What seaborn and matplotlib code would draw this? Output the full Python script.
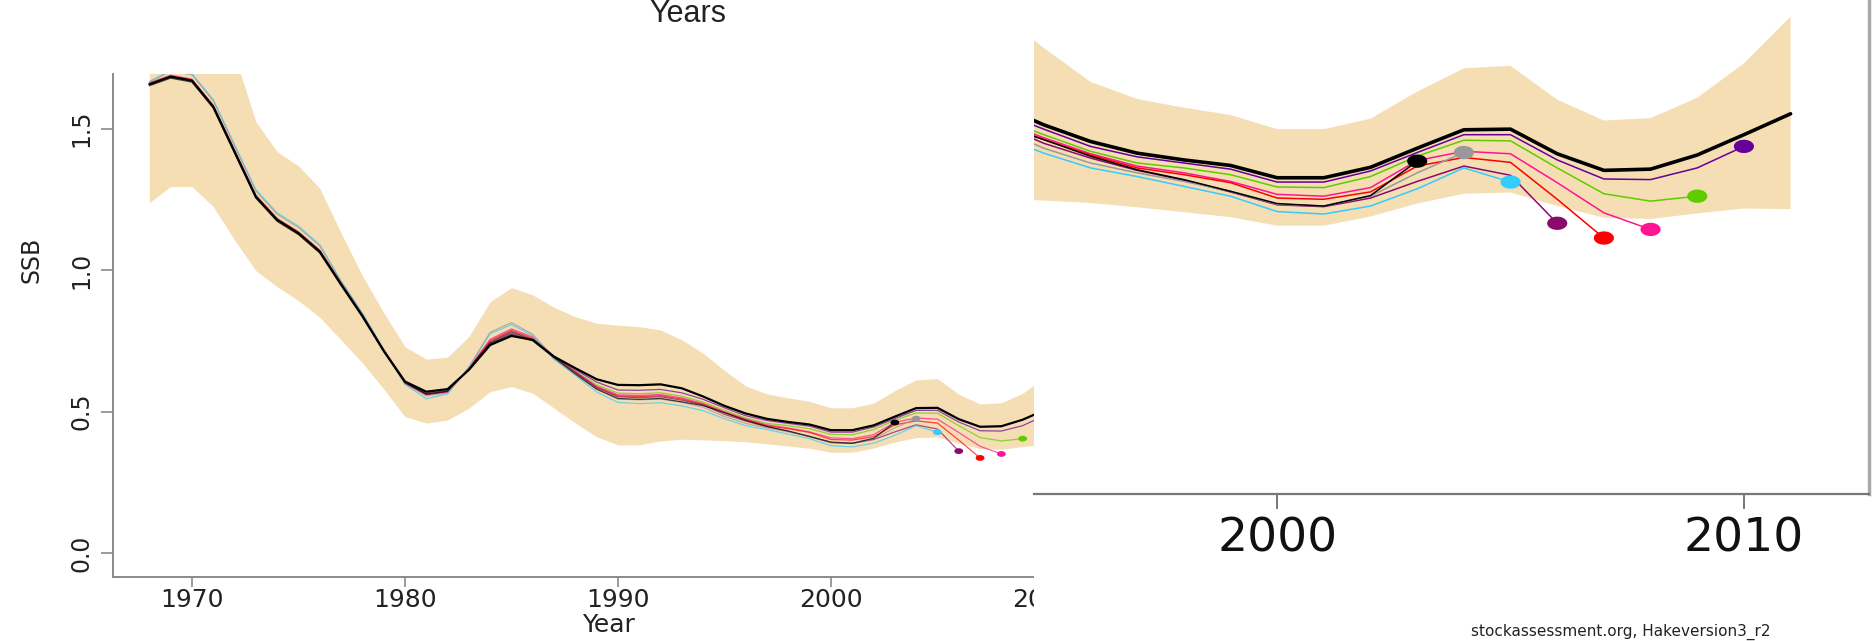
import numpy as np
import pandas as pd
import matplotlib
matplotlib.use("Agg")
import matplotlib.pyplot as plt
from matplotlib.path import Path
from matplotlib.patches import Rectangle
import seaborn as sns

# ---------------------------------------------------------------- data
years = list(range(1968, 2012))

# final assessment SSB and its confidence band
ssb_final = [1.656, 1.683, 1.669, 1.577, 1.418, 1.259, 1.177, 1.130, 1.065, 0.950,
             0.838, 0.715, 0.606, 0.570, 0.579, 0.647, 0.735, 0.767, 0.753, 0.694,
             0.653, 0.614, 0.594, 0.593, 0.596, 0.582, 0.553, 0.520, 0.493, 0.474,
             0.463, 0.454, 0.434, 0.434, 0.451, 0.482, 0.512, 0.513, 0.473, 0.446,
             0.448, 0.471, 0.504, 0.538]
ssb_upper = [2.05, 2.10, 2.10, 1.98, 1.76, 1.524, 1.418, 1.368, 1.289, 1.131,
             0.980, 0.850, 0.729, 0.685, 0.692, 0.765, 0.888, 0.938, 0.912, 0.868,
             0.835, 0.812, 0.805, 0.800, 0.788, 0.753, 0.706, 0.645, 0.590, 0.562,
             0.548, 0.536, 0.513, 0.513, 0.530, 0.574, 0.612, 0.616, 0.561, 0.527,
             0.531, 0.564, 0.620, 0.696]
ssb_lower = [1.238, 1.295, 1.295, 1.224, 1.106, 0.998, 0.941, 0.892, 0.833, 0.753,
             0.672, 0.580, 0.482, 0.459, 0.470, 0.512, 0.570, 0.588, 0.565, 0.512,
             0.459, 0.411, 0.382, 0.382, 0.396, 0.402, 0.400, 0.397, 0.393, 0.386,
             0.378, 0.370, 0.356, 0.356, 0.371, 0.392, 0.408, 0.410, 0.388, 0.369,
             0.367, 0.376, 0.384, 0.383]

# retrospective peels, each starting in 1968 and ending in its terminal year
peel_2010 = [1.659, 1.686, 1.672, 1.580, 1.421, 1.262, 1.180, 1.133, 1.068, 0.953,
             0.840, 0.717, 0.604, 0.565, 0.574, 0.650, 0.743, 0.777, 0.753, 0.693,
             0.648, 0.604, 0.576, 0.575, 0.578, 0.566, 0.543, 0.513, 0.485, 0.468,
             0.458, 0.448, 0.427, 0.427, 0.445, 0.475, 0.504, 0.504, 0.463, 0.432,
             0.431, 0.450, 0.485]
peel_2009 = [1.661, 1.688, 1.674, 1.582, 1.423, 1.264, 1.182, 1.135, 1.070, 0.955,
             0.842, 0.718, 0.603, 0.562, 0.571, 0.652, 0.745, 0.782, 0.755, 0.692,
             0.643, 0.594, 0.565, 0.563, 0.566, 0.554, 0.533, 0.504, 0.477, 0.458,
             0.450, 0.439, 0.419, 0.418, 0.436, 0.469, 0.495, 0.494, 0.450, 0.408,
             0.396, 0.404]
peel_2008 = [1.661, 1.688, 1.674, 1.582, 1.423, 1.264, 1.182, 1.135, 1.070, 0.955,
             0.842, 0.718, 0.602, 0.561, 0.570, 0.653, 0.755, 0.792, 0.763, 0.694,
             0.641, 0.589, 0.559, 0.557, 0.560, 0.548, 0.528, 0.499, 0.473, 0.453,
             0.442, 0.428, 0.407, 0.404, 0.418, 0.462, 0.477, 0.473, 0.426, 0.377,
             0.350]
peel_2007 = [1.658, 1.685, 1.671, 1.579, 1.420, 1.261, 1.179, 1.132, 1.067, 0.952,
             0.840, 0.716, 0.601, 0.560, 0.569, 0.652, 0.750, 0.787, 0.758, 0.693,
             0.638, 0.586, 0.555, 0.553, 0.556, 0.544, 0.525, 0.496, 0.471, 0.450,
             0.439, 0.426, 0.401, 0.399, 0.411, 0.453, 0.467, 0.459, 0.399, 0.336]
peel_2006 = [1.656, 1.683, 1.669, 1.577, 1.418, 1.259, 1.177, 1.130, 1.065, 0.950,
             0.838, 0.715, 0.600, 0.560, 0.569, 0.652, 0.745, 0.782, 0.753, 0.692,
             0.638, 0.584, 0.552, 0.549, 0.552, 0.540, 0.523, 0.490, 0.466, 0.446,
             0.430, 0.411, 0.390, 0.387, 0.401, 0.428, 0.453, 0.438, 0.360]
peel_2005 = [1.666, 1.705, 1.694, 1.602, 1.443, 1.284, 1.202, 1.155, 1.090, 0.962,
             0.848, 0.720, 0.596, 0.545, 0.562, 0.657, 0.775, 0.807, 0.768, 0.684,
             0.628, 0.569, 0.532, 0.528, 0.531, 0.520, 0.503, 0.474, 0.450, 0.436,
             0.420, 0.404, 0.379, 0.375, 0.388, 0.416, 0.450, 0.427]
peel_2004 = [1.664, 1.702, 1.690, 1.598, 1.438, 1.279, 1.197, 1.150, 1.085, 0.960,
             0.846, 0.719, 0.598, 0.555, 0.566, 0.655, 0.780, 0.814, 0.773, 0.690,
             0.633, 0.579, 0.544, 0.541, 0.544, 0.532, 0.515, 0.482, 0.458, 0.442,
             0.428, 0.412, 0.391, 0.388, 0.404, 0.442, 0.475]
peel_2003 = [1.651, 1.678, 1.664, 1.572, 1.413, 1.254, 1.172, 1.125, 1.060, 0.945,
             0.834, 0.712, 0.602, 0.562, 0.572, 0.650, 0.740, 0.772, 0.750, 0.690,
             0.633, 0.579, 0.546, 0.543, 0.546, 0.534, 0.521, 0.496, 0.469, 0.447,
             0.431, 0.412, 0.392, 0.388, 0.405, 0.461]

peels = {2010: peel_2010, 2009: peel_2009, 2008: peel_2008, 2007: peel_2007,
         2006: peel_2006, 2005: peel_2005, 2004: peel_2004, 2003: peel_2003}
peel_colors = {2010: "#660099", 2009: "#5FCC00", 2008: "#FF1493", 2007: "#FF0000",
               2006: "#8B0A6B", 2005: "#33CCFF", 2004: "#999999", 2003: "#000000"}

x_ticks = [1970, 1980, 1990, 2000, 2010]
y_ticks = [0.0, 0.5, 1.0, 1.5]
y_tick_labels = ["0.0", "0.5", "1.0", "1.5"]
inset_ticks = [2000, 2010]

# long-form tables for seaborn
peel_df = pd.DataFrame(
    [(end, yr, v) for end, vals in peels.items() for yr, v in zip(years, vals)],
    columns=["peel", "year", "ssb"])
end_df = peel_df.loc[peel_df.groupby("peel")["year"].idxmax()]
final_df = pd.DataFrame({"year": years, "ssb": ssb_final})
order = list(peels.keys())

# ---------------------------------------------------------------- style
sns.set_style("ticks")
plt.rcParams["font.family"] = ["DejaVu Sans"]
BAND = "#F5DEB3"
AXIS_GREY = "#8a8a8a"

W, H = 1872, 641
fig = plt.figure(figsize=(W / 100, H / 100), dpi=100)


def box(left, top, right, bottom):
    """pixel box (from top-left) -> figure fraction rect"""
    return [left / W, 1 - bottom / H, (right - left) / W, (bottom - top) / H]


# flattened ellipse for the terminal-year dots
t = np.linspace(0, 2 * np.pi, 64)
ellipse = Path(np.column_stack([np.cos(t), 0.66 * np.sin(t)]), closed=True)


def draw_series(axis, lw_thin, lw_main, dot_size, alpha):
    axis.fill_between(years, ssb_lower, ssb_upper, color=BAND, lw=0, zorder=1)
    sns.lineplot(data=peel_df, x="year", y="ssb", hue="peel", hue_order=order,
                 palette=peel_colors, estimator=None, sort=False, legend=False,
                 lw=lw_thin, alpha=alpha, ax=axis, zorder=2)
    sns.lineplot(data=final_df, x="year", y="ssb", color="black",
                 estimator=None, lw=lw_main, ax=axis, zorder=3)
    sns.scatterplot(data=end_df, x="year", y="ssb", hue="peel", hue_order=order,
                    palette=peel_colors, marker=ellipse, s=dot_size,
                    edgecolor="none", legend=False, ax=axis, zorder=4)
    axis.set_xlabel("")
    axis.set_ylabel("")


# ---------------------------------------------------------------- main panel
ax = fig.add_axes(box(112.7, 73.6, 1101.9, 576.5), zorder=0)
draw_series(ax, lw_thin=0.9, lw_main=1.6, dot_size=40, alpha=0.7)
ax.set_xlim(1966.28, 2012.72)
ax.set_ylim(-0.083, 1.694)
ax.set_xticks(x_ticks)
ax.set_xticklabels([str(v) for v in x_ticks], fontsize=18, color="#222222")
ax.set_yticks(y_ticks)
ax.set_yticklabels(y_tick_labels, fontsize=17, rotation=90, va="center",
                   color="#222222")
ax.tick_params(axis="x", direction="out", length=7, width=1.2, colors=AXIS_GREY,
               labelcolor="#222222", pad=1.5)
ax.tick_params(axis="y", direction="out", length=9, width=1.2, colors=AXIS_GREY,
               labelcolor="#222222", pad=5)
sns.despine(ax=ax)
for side in ("left", "bottom"):
    ax.spines[side].set_color(AXIS_GREY)
    ax.spines[side].set_linewidth(1.4)

fig.text(31.5 / W, 1 - 260 / H, "SSB", rotation=90, ha="center", va="center",
         fontsize=17, color="#222222")
fig.text(609 / W, 1 - 624.5 / H, "Year", ha="center", va="center",
         fontsize=18, color="#222222")
fig.text(688 / W, 1 - 14 / H, "Years", ha="center", va="center",
         fontsize=22, color="#222222", family=["Liberation Sans", "DejaVu Sans"])

# white panel behind the magnified view
fig.add_artist(Rectangle((1034 / W, 0), 1 - 1034 / W, 1, transform=fig.transFigure,
                         facecolor="white", edgecolor="none", zorder=1))

# ---------------------------------------------------------------- magnified panel
ax2 = fig.add_axes(box(1034, 0, 1869, 493.9), zorder=2)
ax2.set_facecolor("white")
draw_series(ax2, lw_thin=1.1, lw_main=2.6, dot_size=210, alpha=1.0)
ax2.set_xlim(1994.79, 2012.68)
ax2.set_ylim(-0.08, 0.723)
ax2.set_yticks([])
ax2.set_xticks(inset_ticks)
ax2.set_xticklabels([str(v) for v in inset_ticks], fontsize=34, color="#111111")
ax2.tick_params(axis="x", direction="out", length=11, width=1.4, colors="#777777",
                labelcolor="#111111", pad=5)
for side in ("left", "top"):
    ax2.spines[side].set_visible(False)
ax2.spines["bottom"].set_color("#777777")
ax2.spines["bottom"].set_linewidth(1.6)
ax2.spines["right"].set_color("#aaaaaa")
ax2.spines["right"].set_linewidth(2.5)

fig.text(1471 / W, 1 - 640 / H, "stockassessment.org, Hakeversion3_r2",
         ha="left", va="bottom", fontsize=11, color="#222222", zorder=5)

fig.savefig("out.png", dpi=100, facecolor="white")
